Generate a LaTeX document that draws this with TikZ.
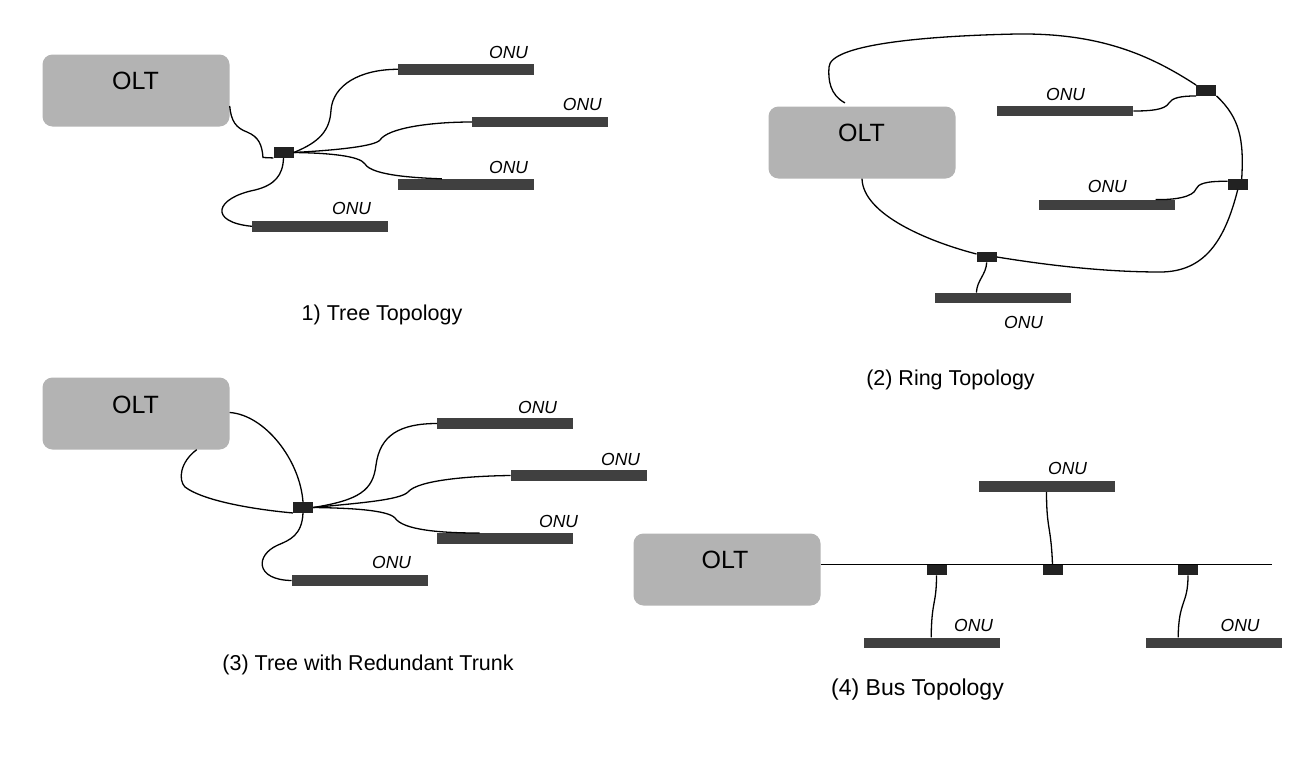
\documentclass[tikz,border=0pt]{standalone}
\usepackage{fontspec}
\setmainfont{Liberation Sans}
\usetikzlibrary{calc}
\definecolor{oltgray}{HTML}{B3B3B3}
\definecolor{bargray}{HTML}{404040}
\definecolor{splitblack}{HTML}{222222}
\begin{document}
\begin{tikzpicture}[x=1pt,y=-1pt,
 olt/.style={fill=oltgray, rounded corners=10pt, inner sep=0pt, minimum width=187pt, minimum height=72pt},
 olttext/.style={font=\fontsize{25}{30}\selectfont, anchor=base, inner sep=0pt},
 onubar/.style={fill=bargray, inner sep=0pt, minimum width=136pt, minimum height=10.5pt},
 onutext/.style={font=\fontsize{17.5}{21}\selectfont\itshape, anchor=base west, inner sep=0pt},
 splitter/.style={fill=splitblack, inner sep=0pt, minimum width=20pt, minimum height=10.5pt},
 fiber/.style={draw=black, line width=1.3pt},
 caption/.style={font=\fontsize{21.5}{26}\selectfont, anchor=base, inner sep=0pt}]
\fill[white] (0,0) rectangle (1290,771);
\useasboundingbox (0,0) rectangle (1290,771);

% ---------- 1) Tree topology ----------
\node[olt] (o1) at (136,90.5) {};
\node[olttext] (o1t) at (135.5,89.3) {OLT};
\node[splitter] (s1) at (283.5,152.5) {};
\node[onubar] (a1) at (466,69.3) {};
\node[onubar] (b1) at (540,122) {};
\node[onubar] (c1) at (466,184.3) {};
\node[onubar] (d1) at (320,226.3) {};
\node[onutext] (la1) at (489,58.3) {ONU};
\node[onutext] (lb1) at (562.7,110) {ONU};
\node[onutext] (lc1) at (489,173.3) {ONU};
\node[onutext] (ld1) at (332,214) {ONU};
\draw[fiber] ($(o1.east)+(0,15.5)$) .. controls (231,121) and (236,128) .. (247,132) .. controls (259,137) and (262,145) .. (263,157.5) -- (s1.south west);
\draw[fiber] (s1.east) .. controls (320,142) and (330,130) .. (331,110) .. controls (333,85) and (360,69.3) .. (a1.west);
\draw[fiber] (s1.east) .. controls (340,150) and (375,146) .. (380,140) .. controls (388,128) and (430,122) .. (b1.west);
\draw[fiber] (s1.east) .. controls (330,153) and (360,156) .. (365,164) .. controls (372,176) and (420,178) .. ($(c1.north west)+(44,0)$);
\draw[fiber] (s1.south) .. controls (283,175) and (275,185) .. (255,190) .. controls (215,198) and (208,222) .. (d1.west);
\node[caption] (cap1) at (382,320.5) {1) Tree Topology};

% ---------- 2) Ring topology ----------
\node[olt] (o2) at (862,142.5) {};
\node[olttext] (o2t) at (861.5,141.7) {OLT};
\node[splitter] (r1) at (1206.3,90.5) {};
\node[splitter] (r2) at (1237.7,184.3) {};
\node[splitter] (r3) at (986.7,257) {};
\node[onubar] (e1) at (1065.2,111) {};
\node[onubar] (e2) at (1106.5,205) {};
\node[onubar] (e3) at (1002.9,298) {};
\node[onutext] (le1) at (1046,100) {ONU};
\node[onutext] (le2) at (1087.7,192.7) {ONU};
\node[onutext] (le3) at (1004,328) {ONU};
\draw[fiber] ($(o2.north)+(-17,-3.4)$) .. controls (830,95) and (828,80) .. (829,67) .. controls (830,45) and (920,36) .. (1017,34) .. controls (1100,33) and (1150,55) .. (r1.north west);
\draw[fiber] (r1.south west) .. controls (1180,96) and (1172,98) .. (1169,103) .. controls (1165,110) and (1150,111) .. (e1.east);
\draw[fiber] (r1.south east) .. controls (1240,118) and (1244,140) .. ($(r2.north)+(4,0)$);
\draw[fiber] ($(r2.west)+(0,-3)$) .. controls (1205,181) and (1198,184) .. (1196,189) .. controls (1193,197) and (1175,200) .. ($(e2.north east)+(-19,0)$);
\draw[fiber] (r2.south) .. controls (1225,240) and (1205,272) .. (1160,272) .. controls (1100,272) and (1040,264) .. (r3.east);
\draw[fiber] ($(r3.west)+(0,-3)$) .. controls (930,242) and (863,215) .. (o2.south);
\draw[fiber] (r3.south) .. controls (986,275) and (977,280) .. ($(e3.north west)+(41.7,0)$);
\node[caption] (cap2) at (950.5,385) {(2) Ring Topology};

% ---------- 3) Tree with redundant trunk ----------
\node[olt] (o3) at (136,413.5) {};
\node[olttext] (o3t) at (135.5,413) {OLT};
\node[splitter] (s3) at (303,507.5) {};
\node[onubar] (a3) at (505.3,423.5) {};
\node[onubar] (b3) at (578.8,475.5) {};
\node[onubar] (c3) at (505.3,538.5) {};
\node[onubar] (d3) at (359.8,580.5) {};
\node[onutext] (la3) at (518,413) {ONU};
\node[onutext] (lb3) at (601,465) {ONU};
\node[onutext] (lc3) at (539,527) {ONU};
\node[onutext] (ld3) at (372,568) {ONU};
\draw[fiber] ($(o3.east)+(0,-1)$) .. controls (265,415) and (300,460) .. (s3.north);
\draw[fiber] ($(o3.south)+(60.7,0)$) .. controls (180,462) and (178,480) .. (185,487) .. controls (205,502) and (260,510) .. (s3.south west);
\draw[fiber] (s3.east) .. controls (360,500) and (373,490) .. (376,465) .. controls (380,435) and (400,423.5) .. (a3.west);
\draw[fiber] (s3.east) .. controls (360,503) and (400,500) .. (408,492) .. controls (418,480) and (470,476) .. (b3.west);
\draw[fiber] (s3.east) .. controls (350,508) and (388,510) .. (395,518) .. controls (403,530) and (440,533) .. ($(c3.north west)+(42.4,0)$);
\draw[fiber] (s3.south) .. controls (302,535) and (290,540) .. (278,545) .. controls (255,555) and (255,580) .. (d3.west);
\node[caption] (cap3) at (368,670.5) {(3) Tree with Redundant Trunk};

% ---------- 4) Bus topology ----------
\node[olt] (o4) at (727,569.5) {};
\node[olttext] (o4t) at (725,568) {OLT};
\coordinate (busend) at (1272,564.5);
\node[splitter] (q1) at (936.5,570) {};
\node[splitter] (q2) at (1052.5,570) {};
\node[splitter] (q3) at (1188,570) {};
\node[onubar] (f1) at (1046.9,486.3) {};
\node[onubar] (f2) at (931.8,642.9) {};
\node[onubar] (f3) at (1213.8,642.9) {};
\node[onutext] (lf1) at (1048,474) {ONU};
\node[onutext] (lf2) at (954,631) {ONU};
\node[onutext] (lf3) at (1220.5,631) {ONU};
\draw[fiber] ($(o4.east)+(0,-5)$) -- (busend);
\draw[fiber] ($(f1.south west)+(67.8,0)$) .. controls (1046.5,530) and (1051,525) .. (q2.north);
\draw[fiber] (q1.south) .. controls (936.5,605) and (931.5,600) .. ($(f2.north west)+(67.6,0)$);
\draw[fiber] (q3.south) .. controls (1188,605) and (1178.5,600) .. ($(f3.north west)+(32.6,0)$);
\node[caption, font=\fontsize{23}{28}\selectfont] (cap4) at (917.5,695) {(4) Bus Topology};
\end{tikzpicture}
\end{document}
